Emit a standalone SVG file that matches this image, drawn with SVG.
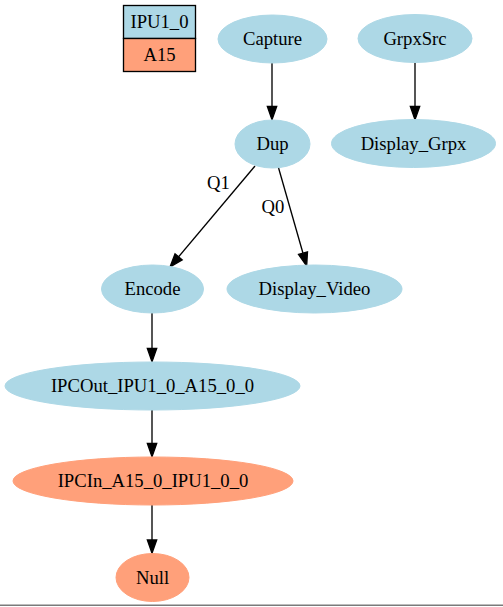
<svg xmlns="http://www.w3.org/2000/svg" width="503" height="607" viewBox="0 0 503 607">
  <style>
    .blue { fill: #add8e6; stroke: #add8e6; }
    .salmon { fill: #ffa07a; stroke: #ffa07a; }
    text { font-family: 'Liberation Serif', 'DejaVu Serif', 'Times New Roman', serif; font-size: 18.67px; fill: #000; text-anchor: middle; }
    .edge { stroke: #000; stroke-width: 1.33; fill: none; }
  </style>
  <defs>
    <marker id="arrow" markerUnits="userSpaceOnUse" markerWidth="15" markerHeight="11" refX="0" refY="4.67" orient="auto" overflow="visible">
      <path d="M0,0 L13.3,4.67 L0,9.33 Z" fill="#000" stroke="#000" stroke-width="1.33"/>
    </marker>
  </defs>
  <rect width="503" height="607" fill="#fff"/>

  <!-- legend: IPU1_0 / A15 -->
  <g id="legend">
    <rect x="123.5" y="5.5" width="72" height="33" fill="#add8e6" stroke="#000" stroke-width="1.33"/>
    <rect x="123.5" y="38.5" width="72" height="33" fill="#ffa07a" stroke="#000" stroke-width="1.33"/>
    <text x="159.5" y="28" font-family="Liberation Serif, serif">IPU1_0</text>
    <text x="159.5" y="61" font-family="Liberation Serif, serif">A15</text>
  </g>

  <!-- connectors -->
  <g id="edges">
    <line class="edge" x1="272" y1="63" x2="272" y2="106.5" marker-end="url(#arrow)"/>
    <line class="edge" x1="415" y1="62.5" x2="415" y2="106.5" marker-end="url(#arrow)"/>
    <line class="edge" x1="255" y1="166" x2="178.6" y2="256.8" marker-end="url(#arrow)"/>
    <line class="edge" x1="278.3" y1="167" x2="303" y2="253.2" marker-end="url(#arrow)"/>
    <line class="edge" x1="152" y1="313" x2="152" y2="348.5" marker-end="url(#arrow)"/>
    <line class="edge" x1="152" y1="410" x2="152" y2="443.5" marker-end="url(#arrow)"/>
    <line class="edge" x1="152" y1="505" x2="152" y2="540" marker-end="url(#arrow)"/>
    <text x="218.5" y="189">Q1</text>
    <text x="273" y="213">Q0</text>
  </g>

  <g id="Capture">
    <ellipse class="blue" cx="272.5" cy="39" rx="54.5" ry="24"/>
    <text x="272.5" y="45">Capture</text>
  </g>
  <g id="GrpxSrc">
    <ellipse class="blue" cx="415" cy="38.5" rx="57" ry="24"/>
    <text x="415" y="44.5">GrpxSrc</text>
  </g>
  <g id="Dup">
    <ellipse class="blue" cx="272.5" cy="144" rx="37.5" ry="24"/>
    <text x="272.5" y="150">Dup</text>
  </g>
  <g id="Display_Grpx">
    <ellipse class="blue" cx="413.5" cy="143.5" rx="82" ry="24"/>
    <text x="413.5" y="149.5">Display_Grpx</text>
  </g>
  <g id="Encode">
    <ellipse class="blue" cx="152.5" cy="289" rx="51" ry="24"/>
    <text x="152.5" y="295">Encode</text>
  </g>
  <g id="Display_Video">
    <ellipse class="blue" cx="314.5" cy="289" rx="87.5" ry="24"/>
    <text x="314.5" y="295">Display_Video</text>
  </g>
  <g id="IPCOut_IPU1_0_A15_0_0">
    <ellipse class="blue" cx="152.5" cy="386" rx="147.5" ry="24"/>
    <text x="152.5" y="392">IPCOut_IPU1_0_A15_0_0</text>
  </g>
  <g id="IPCIn_A15_0_IPU1_0_0">
    <ellipse class="salmon" cx="153" cy="481" rx="140" ry="24"/>
    <text x="153" y="487">IPCIn_A15_0_IPU1_0_0</text>
  </g>
  <g id="Null">
    <ellipse class="salmon" cx="152.5" cy="577.5" rx="36.5" ry="24"/>
    <text x="152.5" y="583.5">Null</text>
  </g>

  <line x1="0" y1="605.3" x2="503" y2="605.3" stroke="#7a7a7a" stroke-width="1.6"/>
</svg>
